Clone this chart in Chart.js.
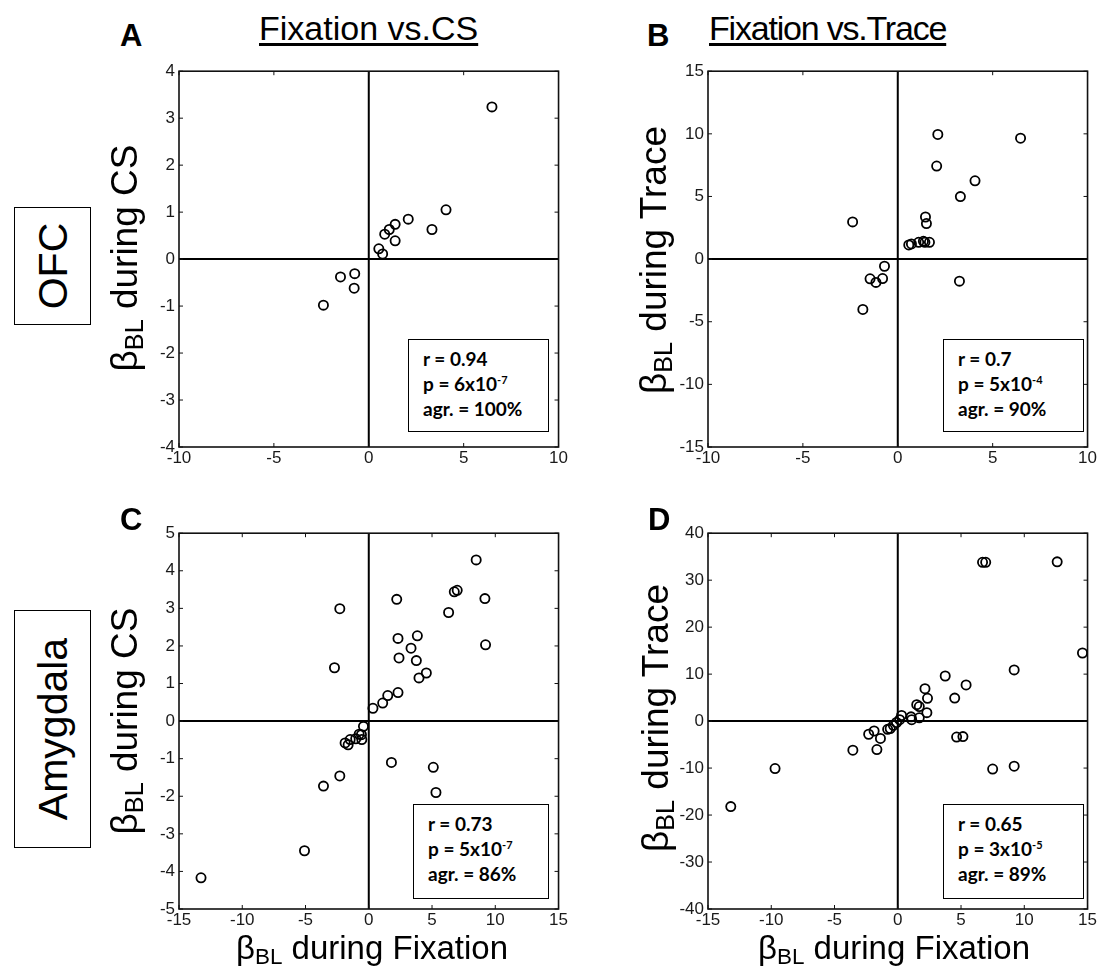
<!DOCTYPE html>
<html>
<head>
<meta charset="utf-8">
<script src="https://cdn.jsdelivr.net/npm/chart.js@4.4.0/dist/chart.umd.min.js"></script>
<style>
  body { margin: 0; width: 1098px; height: 971px; background: #fff; position: relative; overflow: hidden;
         font-family: 'Liberation Sans', Arial, sans-serif; color: #000; }
  canvas { position: absolute; }
  .txt { position: absolute; white-space: nowrap; line-height: 1; }
  .letter { font-family: 'Liberation Sans', Arial, sans-serif; font-weight: 700; font-size: 31px; }
  .head { font-size: 34px; text-decoration: underline; text-decoration-thickness: 3px; text-underline-offset: 3px; }
  .ytitle { font-size: 37px; transform: translate(-50%, -50%) rotate(-90deg); }
  .xtitle { font-size: 33px; transform: translateX(-50%); }
  sub { font-size: 0.68em; vertical-align: -0.24em; line-height: 0; }
  .region { position: absolute; border: 1.5px solid #000; box-sizing: border-box; }
  .region span { position: absolute; left: 50%; top: 50%; font-size: 41px; line-height: 1; white-space: nowrap;
                 transform: translate(-50%, -50%) rotate(-90deg); }
  .stats { position: absolute; border: 1.5px solid #000; box-sizing: border-box; background: #fff;
           font-family: Lato, sans-serif; font-weight: 700; font-size: 19px; line-height: 25px;
           padding: 6px 0 0 14px; }
  .stats sup { font-size: 11px; line-height: 0; vertical-align: 7px; }
</style>
</head>
<body>

<canvas id="ofcCs" width="430" height="420" style="left:139px; top:57px"></canvas>
<canvas id="ofcTrace" width="430" height="420" style="left:668px; top:57px"></canvas>
<canvas id="amyCs" width="430" height="420" style="left:139px; top:519px"></canvas>
<canvas id="amyTrace" width="430" height="420" style="left:668px; top:519px"></canvas>

<div class="txt letter" style="left:120px; top:20px">A</div>
<div class="txt letter" style="left:647px; top:20px">B</div>
<div class="txt letter" style="left:120px; top:504px">C</div>
<div class="txt letter" style="left:648px; top:504px">D</div>

<div class="txt head" style="left:259px; top:11px">Fixation vs.CS</div>
<div class="txt head" style="left:709px; top:11px; letter-spacing:-1.2px">Fixation vs.Trace</div>

<div class="region" style="left:14px; top:207px; width:77px; height:118px"><span>OFC</span></div>
<div class="region" style="left:14px; top:610px; width:77px; height:238px"><span>Amygdala</span></div>

<div class="txt ytitle" style="left:124px; top:258px">β<sub>BL</sub> during CS</div>
<div class="txt ytitle" style="left:653px; top:260px">β<sub>BL</sub> during Trace</div>
<div class="txt ytitle" style="left:124px; top:721px">β<sub>BL</sub> during CS</div>
<div class="txt ytitle" style="left:655px; top:718px">β<sub>BL</sub> during Trace</div>

<div class="txt xtitle" style="left:372px; top:931px">β<sub>BL</sub> during Fixation</div>
<div class="txt xtitle" style="left:894px; top:931px">β<sub>BL</sub> during Fixation</div>

<div id="stats"></div>

<script>
// OFC: fixation vs CS
const ofcCsX = [-2.39, -1.49, -0.74, -0.77, 0.53, 0.73, 0.84, 1.08, 1.39, 1.39, 2.08, 3.33, 4.07, 6.49];
const ofcCsY = [-0.98, -0.38, -0.31, -0.62, 0.22, 0.11, 0.53, 0.63, 0.74, 0.39, 0.85, 0.63, 1.05, 3.24];

// OFC: fixation vs trace
const ofcTraceX = [-2.38, -1.84, -1.46, -1.15, -0.8, -0.7, 0.58, 0.72, 1.1, 1.35, 1.43, 1.67,
                   1.46, 1.51, 2.05, 2.11, 3.3, 4.07, 6.47, 3.25];
const ofcTraceY = [2.97, -4.02, -1.57, -1.86, -1.55, -0.57, 1.13, 1.21, 1.34, 1.42, 1.34, 1.34,
                   3.36, 2.84, 7.43, 9.95, 4.99, 6.25, 9.65, -1.76];

// Amygdala: fixation vs CS
const amyCsX = [-13.26, -5.08, -3.58, -2.29, -2.29, -2.71, -1.87, -1.63, -1.47, -1.03, -0.76, -0.58,
                -0.55, -0.42, 0.33, 1.1, 1.5, 2.31, 2.21, 2.31, 2.39, 3.34, 3.84, 3.76, 3.97, 4.55,
                6.31, 6.76, 6.99, 8.49, 9.18, 9.23, 1.79, 5.1, 5.31];
const amyCsY = [-4.17, -3.45, -1.73, -1.46, 2.99, 1.42, -0.58, -0.63, -0.49, -0.47, -0.35, -0.36,
                -0.49, -0.14, 0.34, 0.48, 0.68, 0.76, 3.24, 2.2, 1.68, 1.94, 2.27, 1.61, 1.15, 1.28,
                2.89, 3.44, 3.48, 4.29, 3.26, 2.03, -1.1, -1.23, -1.9];

// Amygdala: fixation vs trace
const amyTraceX = [-13.2, -9.7, -3.55, -2.3, -1.87, -1.65, -1.37, -0.8, -0.6, -0.35, -0.1, 0.15,
                   0.3, 1.05, 1.1, 1.7, 1.5, 1.7, 2.3, 2.15, 2.35, 3.75, 4.5, 5.4, 9.2, 6.7, 6.95,
                   12.6, 14.6, 4.65, 5.15, 7.5, 9.2];
const amyTraceY = [-18.2, -10.1, -6.2, -2.8, -2.1, -6.05, -3.7, -1.75, -1.6, -0.9, -0.3, 0.3,
                   1.2, 0.9, 0.3, 0.7, 3.5, 3.1, 1.8, 6.9, 4.85, 9.6, 4.9, 7.7, 10.9, 33.8, 33.8,
                   33.9, 14.5, -3.4, -3.3, -10.2, -9.6];

// axis ticks
const fixTicksOfc = [-10, -5, 0, 5, 10];
const csTicksOfc = [-4, -3, -2, -1, 0, 1, 2, 3, 4];
const traceTicksOfc = [-15, -10, -5, 0, 5, 10, 15];
const fixTicksAmy = [-15, -10, -5, 0, 5, 10, 15];
const csTicksAmy = [-5, -4, -3, -2, -1, 0, 1, 2, 3, 4, 5];
const traceTicksAmy = [-40, -30, -20, -10, 0, 10, 20, 30, 40];

// correlation summaries
const statR = ['0.94', '0.7', '0.73', '0.65'];
const statP = [['6', '-7'], ['5', '-4'], ['5', '-7'], ['3', '-5']];
const statAgr = ['100%', '90%', '86%', '89%'];

const tickFont = { family: "'Liberation Sans', Arial, sans-serif", size: 17 };

// frame, zero lines and inward ticks on all four sides
const framePlugin = {
  id: 'frame',
  beforeDatasetsDraw(chart) {
    const { ctx, chartArea: a, scales: { x, y } } = chart;
    ctx.save();
    ctx.strokeStyle = '#000';
    ctx.lineWidth = 2;
    const x0 = x.getPixelForValue(0), y0 = y.getPixelForValue(0);
    ctx.beginPath();
    ctx.moveTo(x0, a.top); ctx.lineTo(x0, a.bottom);
    ctx.moveTo(a.left, y0); ctx.lineTo(a.right, y0);
    ctx.stroke();

    ctx.lineWidth = 1.6;
    ctx.strokeStyle = '#111';
    ctx.strokeRect(a.left, a.top, a.width, a.height);

    ctx.lineWidth = 1;
    ctx.beginPath();
    x.ticks.forEach(t => {
      const px = x.getPixelForValue(t.value);
      ctx.moveTo(px, a.bottom); ctx.lineTo(px, a.bottom - 4);
      ctx.moveTo(px, a.top); ctx.lineTo(px, a.top + 4);
    });
    y.ticks.forEach(t => {
      const py = y.getPixelForValue(t.value);
      ctx.moveTo(a.left, py); ctx.lineTo(a.left + 4, py);
      ctx.moveTo(a.right, py); ctx.lineTo(a.right - 4, py);
    });
    ctx.stroke();
    ctx.restore();
  }
};

function axis(ticks, side) {
  return {
    type: 'linear',
    position: side,
    min: ticks[0],
    max: ticks[ticks.length - 1],
    afterBuildTicks: s => { s.ticks = ticks.map(v => ({ value: v })); },
    afterFit: s => {
      if (side === 'left') s.width = 40; else s.height = 30;
    },
    grid: { display: false, drawTicks: false },
    border: { display: false },
    ticks: { padding: side === 'left' ? 4 : 1, font: tickFont, color: '#1a1a1a',
             autoSkip: false, maxRotation: 0 }
  };
}

function makePanel(id, xs, ys, xTicks, yTicks) {
  const pts = xs.map((v, i) => ({ x: v, y: ys[i] }));
  return new Chart(document.getElementById(id), {
    type: 'scatter',
    data: {
      datasets: [{
        data: pts,
        pointRadius: 4.6,
        pointHoverRadius: 4.6,
        pointBorderWidth: 1.8,
        pointBorderColor: '#000',
        pointBackgroundColor: 'rgba(0,0,0,0)'
      }]
    },
    options: {
      responsive: false,
      animation: false,
      events: [],
      layout: { padding: { top: 10, right: 10, left: 0, bottom: 0 } },
      plugins: { legend: { display: false }, tooltip: { enabled: false } },
      scales: { x: axis(xTicks, 'bottom'), y: axis(yTicks, 'left') }
    },
    plugins: [framePlugin]
  });
}

makePanel('ofcCs', ofcCsX, ofcCsY, fixTicksOfc, csTicksOfc);
makePanel('ofcTrace', ofcTraceX, ofcTraceY, fixTicksOfc, traceTicksOfc);
makePanel('amyCs', amyCsX, amyCsY, fixTicksAmy, csTicksAmy);
makePanel('amyTrace', amyTraceX, amyTraceY, fixTicksAmy, traceTicksAmy);

// stats boxes in the lower right of each panel
const boxPos = [[408, 339, 141, 93], [943, 339, 141, 93], [413, 804, 136, 95], [943, 804, 141, 95]];
const holder = document.getElementById('stats');
boxPos.forEach(([l, t, w, h], i) => {
  const d = document.createElement('div');
  d.className = 'stats';
  d.style.cssText = `left:${l}px; top:${t}px; width:${w}px; height:${h}px`;
  d.innerHTML = `r = ${statR[i]}<br>p = ${statP[i][0]}x10<sup>${statP[i][1]}</sup><br>agr. = ${statAgr[i]}`;
  holder.appendChild(d);
});
</script>
</body>
</html>
